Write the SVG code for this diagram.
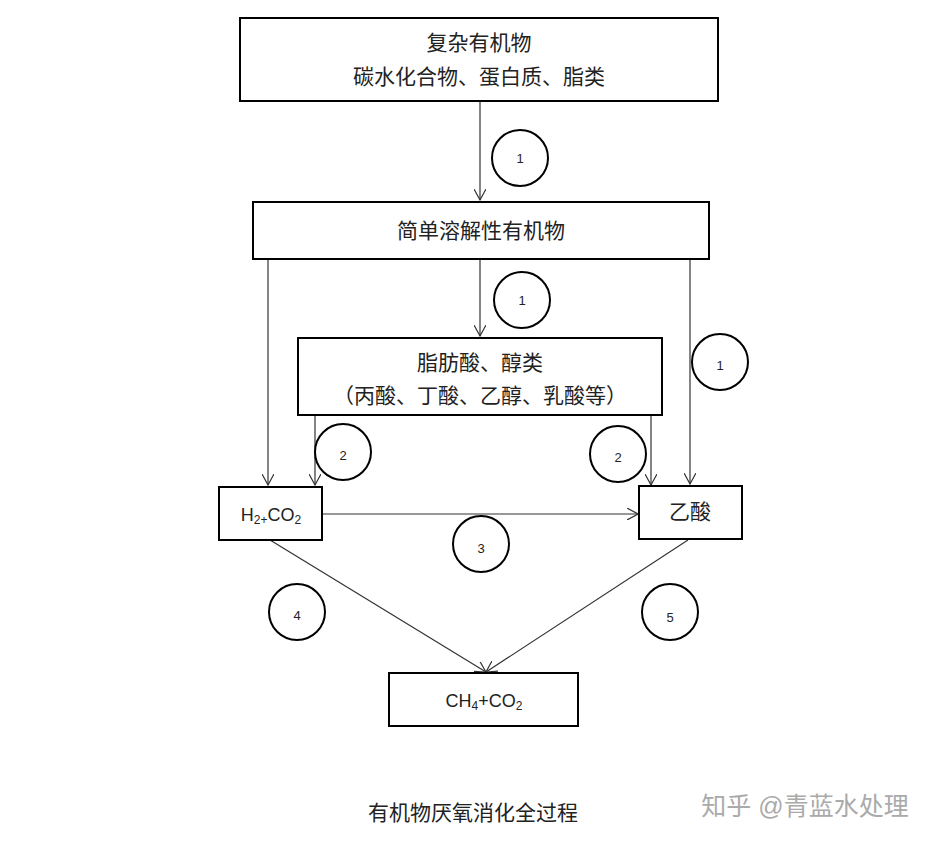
<svg xmlns="http://www.w3.org/2000/svg" width="943" height="845" viewBox="0 0 943 845">
<style>
.box{fill:#fff;stroke:#000;stroke-width:2}
.c{fill:none;stroke:#000;stroke-width:2}
.l{stroke:#333;stroke-width:1.2;fill:none}
text{font-family:"Liberation Sans","Noto Sans CJK SC",sans-serif;text-anchor:middle;fill:#222}
.t{font-size:21px}
.n{font-size:13px}
</style>
<defs>
<marker id="a" viewBox="0 0 12 12" refX="11" refY="6" markerWidth="12" markerHeight="12" markerUnits="userSpaceOnUse" orient="auto">
<polyline points="0,0 11,6 0,12" fill="none" stroke="#333" stroke-width="1.2"/>
</marker>
</defs>
<rect width="943" height="845" fill="#fff"/>
<g id="connectors">
<line class="l" x1="480" y1="101" x2="480" y2="200" marker-end="url(#a)"/>
<line class="l" x1="480" y1="259" x2="480" y2="336" marker-end="url(#a)"/>
<line class="l" x1="268" y1="259" x2="268" y2="485" marker-end="url(#a)"/>
<line class="l" x1="690" y1="259" x2="690" y2="484" marker-end="url(#a)"/>
<line class="l" x1="315" y1="415" x2="315" y2="485" marker-end="url(#a)"/>
<line class="l" x1="651" y1="415" x2="651" y2="485" marker-end="url(#a)"/>
<line class="l" x1="322" y1="514" x2="638" y2="514" marker-end="url(#a)"/>
<line class="l" x1="270" y1="540" x2="486" y2="672" marker-end="url(#a)"/>
<line class="l" x1="688" y1="540" x2="486" y2="672" marker-end="url(#a)"/>
</g>
<g id="labels">
<circle class="c" cx="520" cy="158" r="28"/><text class="n" x="520" y="163">1</text>
<circle class="c" cx="522" cy="300" r="28"/><text class="n" x="522" y="305">1</text>
<circle class="c" cx="720" cy="362" r="28"/><text class="n" x="720" y="370">1</text>
<circle class="c" cx="343" cy="452" r="28"/><text class="n" x="343" y="460">2</text>
<circle class="c" cx="618" cy="454" r="28"/><text class="n" x="618" y="462">2</text>
<circle class="c" cx="481" cy="544" r="28"/><text class="n" x="481" y="553">3</text>
<circle class="c" cx="297" cy="612" r="28"/><text class="n" x="297" y="620">4</text>
<circle class="c" cx="670" cy="612" r="28"/><text class="n" x="670" y="622">5</text>
</g>
<g id="n1"><rect class="box" x="240" y="18" width="478" height="83"/>
<text class="t" x="479" y="50">复杂有机物</text><text class="t" x="479" y="84">碳水化合物、蛋白质、脂类</text></g>
<g id="n2"><rect class="box" x="253" y="202" width="456" height="57"/>
<text class="t" x="481" y="238">简单溶解性有机物</text></g>
<g id="n3"><rect class="box" x="298" y="338" width="364" height="77"/>
<text class="t" x="480" y="370">脂肪酸、醇类</text><text class="t" x="480" y="403">（丙酸、丁酸、乙醇、乳酸等）</text></g>
<g id="n4"><rect class="box" x="219" y="487" width="103" height="53"/>
<text class="t" x="271" y="521" style="font-size:18px">H<tspan font-size="12" dy="3">2+</tspan><tspan dy="-3">CO</tspan><tspan font-size="12" dy="3">2</tspan></text></g>
<g id="n5"><rect class="box" x="639" y="486" width="103" height="53"/>
<text class="t" x="690" y="519">乙酸</text></g>
<g id="n6"><rect class="box" x="389" y="673" width="189" height="53"/>
<text class="t" x="484" y="707" style="font-size:18px">CH<tspan font-size="12" dy="3">4</tspan><tspan dy="-3">+CO</tspan><tspan font-size="12" dy="3">2</tspan></text></g>
<text class="t" x="473" y="820">有机物厌氧消化全过程</text>
<text x="805" y="815" style="font-size:25px;fill:#aaa">知乎 @青蓝水处理</text>
</svg>
